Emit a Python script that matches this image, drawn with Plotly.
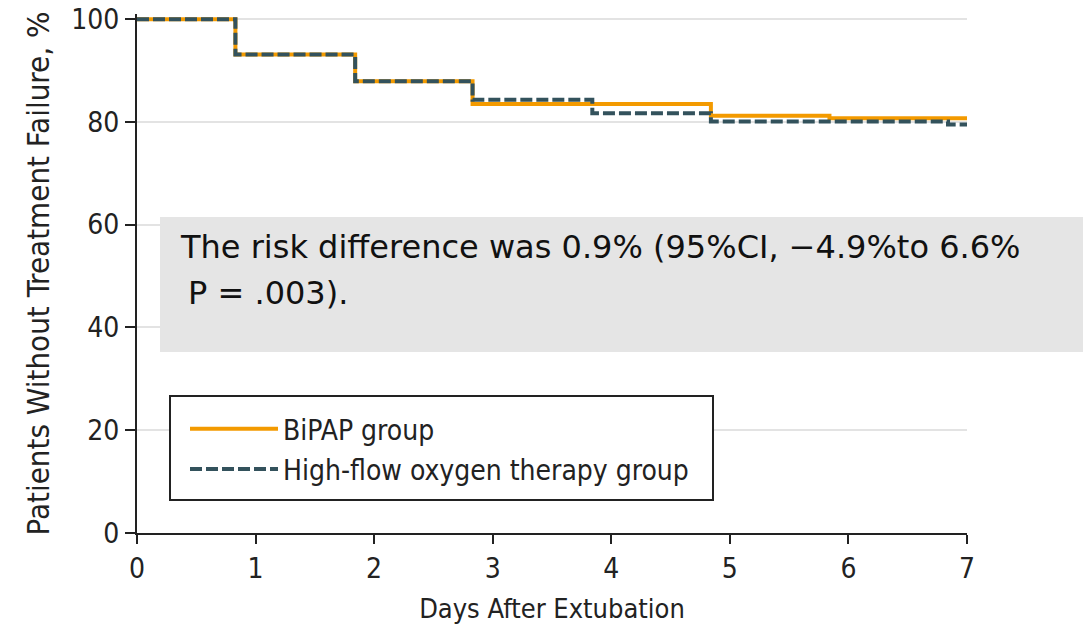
import plotly.graph_objects as go

# Data
bipap_days = [0, 0.83, 1.84, 2.83, 4.84, 5.84, 7.0]
bipap_pct = [100, 93.1, 87.9, 83.5, 81.2, 80.7, 80.7]
hfot_days = [0, 0.83, 1.84, 2.83, 3.84, 4.84, 6.84, 7.0]
hfot_pct = [100, 93.1, 87.9, 84.3, 81.7, 80.1, 79.5, 79.5]
x_ticks = [0, 1, 2, 3, 4, 5, 6, 7]
y_ticks = [0, 20, 40, 60, 80, 100]
series_names = ["BiPAP group", "High-flow oxygen therapy group"]
note_line1 = "The risk difference was 0.9% (95%CI, \u22124.9%to 6.6%"
note_line2 = "P = .003)."

COND = "DejaVu Sans Condensed, Liberation Sans Narrow, Roboto Condensed, sans-serif"
ORANGE = "#F39A00"
SLATE = "#33525C"

def cfont(size):
    return dict(family=COND, size=size, color="#222")

fig = go.Figure()
fig.add_trace(go.Scatter(x=bipap_days, y=bipap_pct, mode="lines", name=series_names[0],
                         line=dict(color=ORANGE, width=4, shape="hv"), legendgroup="a"))
fig.add_trace(go.Scatter(x=hfot_days, y=hfot_pct, mode="lines", name=series_names[1],
                         line=dict(color=SLATE, width=4, shape="hv", dash="12px,4px"), legendgroup="b"))

W, H = 1087, 629
L, R, T, B = 137, 120, 14, 96
pw, ph = W - L - R, H - T - B

def px(x):
    return (x - L) / pw

def py(y):
    return (H - B - y) / ph

# grey note box
fig.add_shape(type="rect", xref="paper", yref="paper",
              x0=px(160), x1=px(1083), y0=py(352), y1=py(217),
              fillcolor="#E5E5E5", line=dict(width=0), layer="above")
fig.add_annotation(xref="paper", yref="paper", x=px(178), y=py(247), xanchor="left", yanchor="middle",
                   text=note_line1, showarrow=False,
                   font=dict(family="DejaVu Sans, sans-serif", size=32, color="#111"))
fig.add_annotation(xref="paper", yref="paper", x=px(186), y=py(293), xanchor="left", yanchor="middle",
                   text=note_line2, showarrow=False,
                   font=dict(family="DejaVu Sans, sans-serif", size=32, color="#111"))

# legend frame
fig.add_shape(type="rect", xref="paper", yref="paper",
              x0=px(170), x1=px(713), y0=py(500), y1=py(396),
              fillcolor="rgba(255,255,255,1)", line=dict(color="#222", width=2), layer="above")

fig.update_layout(
    width=W, height=H,
    margin=dict(l=L, r=R, t=T, b=B),
    paper_bgcolor="white", plot_bgcolor="white",
    showlegend=True,
    legend=dict(x=px(185), y=py(404), xanchor="left", yanchor="top",
                bgcolor="rgba(0,0,0,0)", borderwidth=0,
                font=cfont(28),
                itemwidth=88, traceorder="grouped", tracegroupgap=1),
    xaxis=dict(range=[0, 7], tickvals=x_ticks, ticks="outside", ticklen=9, tickwidth=2,
               tickcolor="#222", showline=True, linecolor="#222", linewidth=2,
               showgrid=False, zeroline=False, automargin=False,
               tickfont=cfont(28),
               title=dict(text="Days After Extubation", standoff=16, font=cfont(27))),
    yaxis=dict(range=[0, 101], tickvals=y_ticks, ticks="outside", ticklen=10, tickwidth=2,
               tickcolor="#222", showline=True, linecolor="#222", linewidth=2,
               showgrid=True, gridcolor="#E3E3E3", gridwidth=1.5, zeroline=False, automargin=False,
               tickfont=cfont(28),
               title=dict(text="Patients Without Treatment Failure, %", standoff=12, font=cfont(31))),
)

fig.write_html("out.html")
